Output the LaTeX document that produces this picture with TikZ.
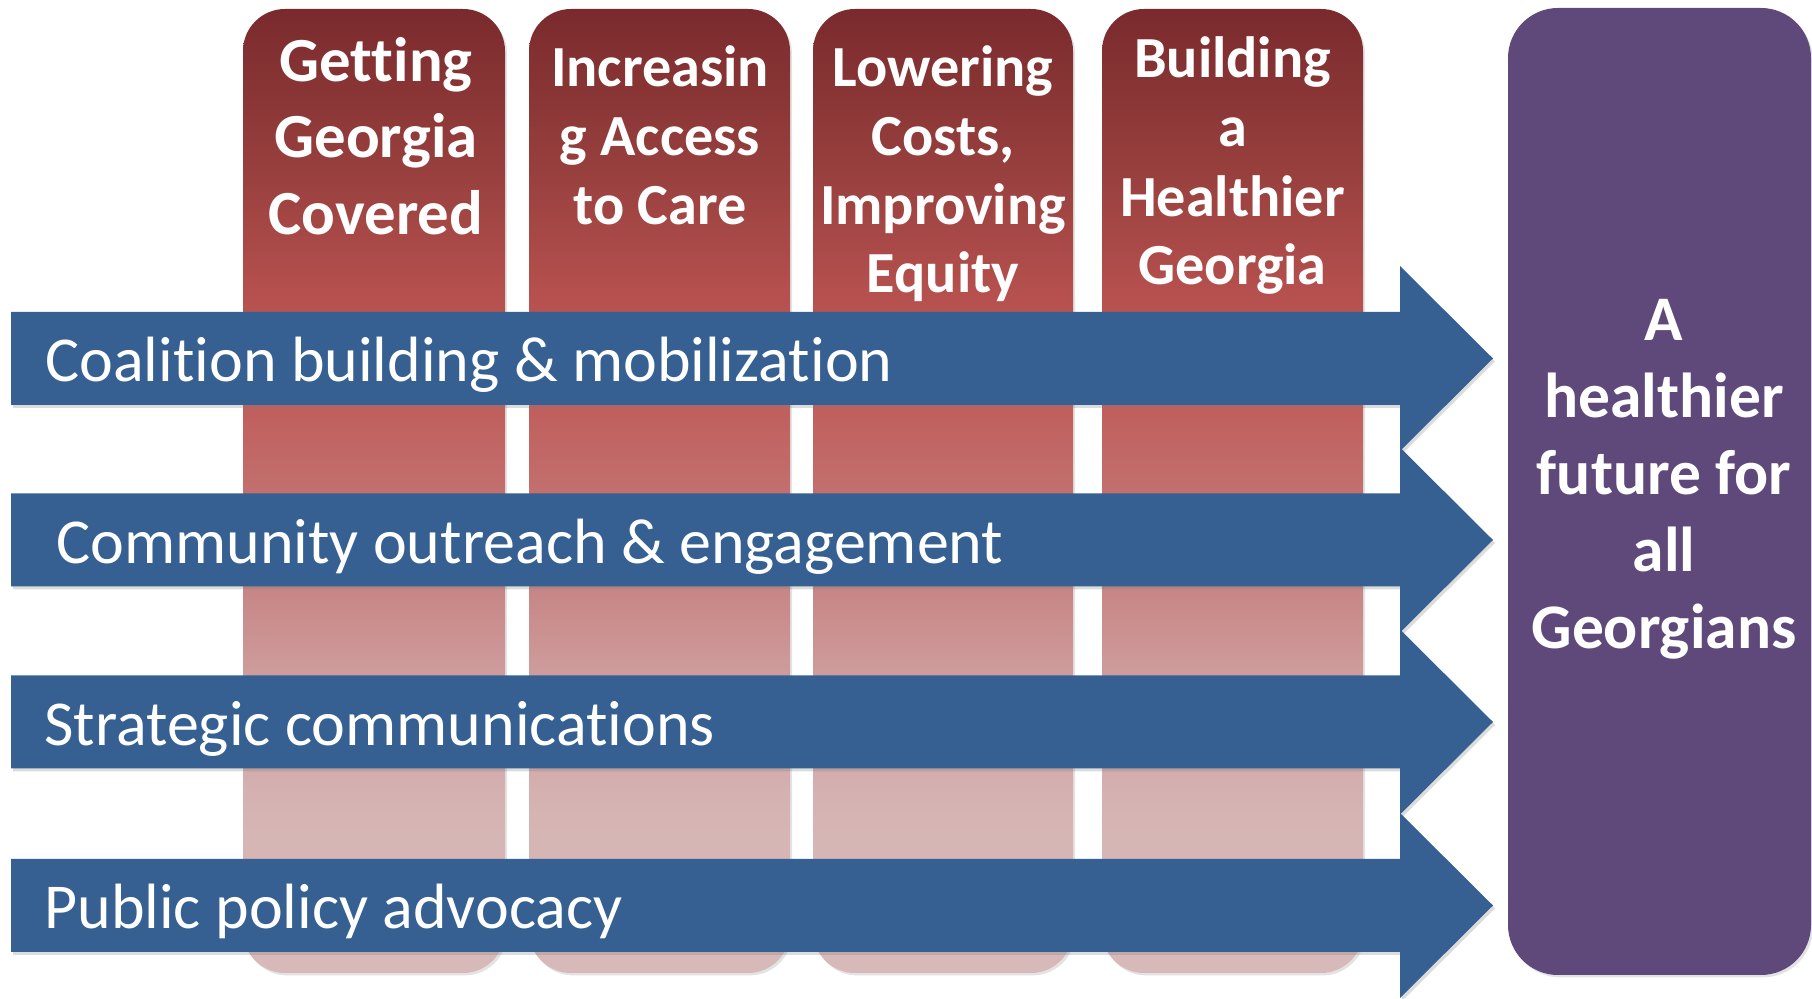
\documentclass[tikz,border=0pt]{standalone}
\usepackage{fontspec}
\setmainfont{Carlito}[Ligatures=NoCommon]
\usetikzlibrary{shadows}
\definecolor{arrowblue}{HTML}{376092}
\definecolor{goalpurple}{HTML}{5F497A}
\definecolor{cA}{HTML}{D8B9B9}
\definecolor{cB}{HTML}{D6B4B4}
\definecolor{cC}{HTML}{CE9C9C}
\definecolor{cD}{HTML}{C47C7B}
\definecolor{cE}{HTML}{C0605E}
\definecolor{cF}{HTML}{B5504E}
\definecolor{cG}{HTML}{98403E}
\definecolor{cH}{HTML}{7A2A2D}
\pgfdeclareverticalshading{colshade}{100bp}{color(0bp)=(cA); color(25bp)=(cA); color(33.3bp)=(cB); color(40.6bp)=(cC); color(46.8bp)=(cD); color(54bp)=(cE); color(60.3bp)=(cF); color(66.5bp)=(cG); color(75bp)=(cH); color(100bp)=(cH)}
\tikzset{
  pillar/.style={shading=colshade, rounded corners=21pt,
    drop shadow={opacity=0.22, shadow xshift=1pt, shadow yshift=-1.2pt}},
  bluearrow/.style={fill=arrowblue,
    drop shadow={opacity=0.28, shadow xshift=1pt, shadow yshift=-1.5pt}},
  goalbox/.style={fill=goalpurple, rounded corners=25pt,
    drop shadow={opacity=0.22, shadow xshift=1pt, shadow yshift=-1.2pt}},
  arrowtext/.style={text=white, inner sep=0pt, anchor=base west,
    font=\fontsize{32}{38}\selectfont},
  titleA/.style={text=white, inner sep=0pt, anchor=base,
    font=\fontsize{31.4}{38}\selectfont\bfseries},
  titleB/.style={text=white, inner sep=0pt, anchor=base,
    font=\fontsize{29.1}{35}\selectfont\bfseries},
  goaltext/.style={text=white, inner sep=0pt, anchor=base,
    font=\fontsize{31.75}{38}\selectfont\bfseries},
}
\begin{document}
\begin{tikzpicture}[x=0.5pt, y=-0.5pt]
\useasboundingbox (0,0) rectangle (1812,999);
% pillars
\shade[pillar] (243,9) rectangle (505,973);
\shade[pillar] (529,9) rectangle (790,973);
\shade[pillar] (813,9) rectangle (1073,973);
\shade[pillar] (1102,9) rectangle (1363,973);
% goal box
\path[goalbox] (1508,8) rectangle (1811,975);
% pillar titles
\node[titleA] (g1) at (376,82) {Getting};
\node[titleA] (g2) at (376,158) {Georgia};
\node[titleA] (g3) at (376,235) {Covered};
\node[titleB] (i1) at (660,87) {Increasin};
\node[titleB] (i2) at (660,156) {g Access};
\node[titleB] (i3) at (660,225) {to Care};
\node[titleB] (l1) at (943,87) {Lowering};
\node[titleB] (l2) at (943,156) {Costs,};
\node[titleB] (l3) at (943,225) {Improving};
\node[titleB] (l4) at (943,293) {Equity};
\node[titleB] (b1) at (1232.5,78) {Building};
\node[titleB] (b2) at (1232.5,147) {a};
\node[titleB] (b3) at (1232.5,217) {Healthier};
\node[titleB] (b4) at (1232.5,285) {Georgia};
% arrows
\foreach \c in {358.5,540,722,905.5}{
  \path[bluearrow] (11,\c-46.5) -- (1400,\c-46.5) -- (1400,\c-92.5) -- (1493,\c)
    -- (1400,\c+92.5) -- (1400,\c+46.5) -- (11,\c+46.5) -- cycle;
}
\node[arrowtext] (a1) at (45,382) {Coalition building \& mobilization};
\node[arrowtext] (a2) at (56,563.5) {Community outreach \& engagement};
\node[arrowtext] (a3) at (44,745.5) {Strategic communications};
\node[arrowtext] (a4) at (44,929) {Public policy advocacy};
% goal text
\node[goaltext] (h1) at (1664,341) {A};
\node[goaltext] (h2) at (1664,418) {healthier};
\node[goaltext] (h3) at (1664,495) {future for};
\node[goaltext] (h4) at (1664,572) {all};
\node[goaltext] (h5) at (1664,649) {Georgians};
\end{tikzpicture}
\end{document}
